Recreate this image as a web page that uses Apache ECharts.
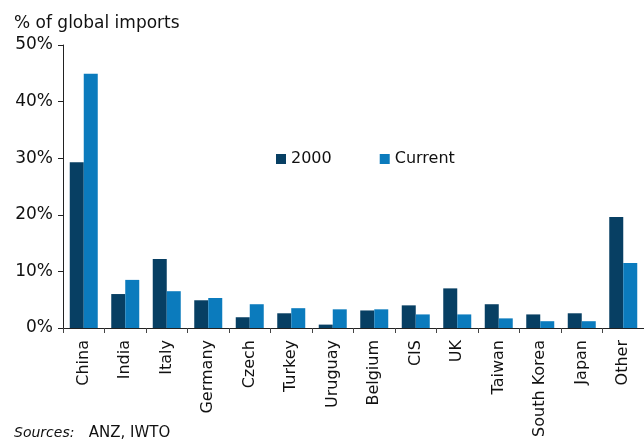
<!DOCTYPE html>
<html>
<head>
<meta charset="utf-8">
<script src="https://cdn.jsdelivr.net/npm/echarts@6/dist/echarts.min.js"></script>
<style>
  html, body { margin: 0; padding: 0; background: #fff; }
  #chart { width: 644px; height: 443px; }
</style>
</head>
<body>
<div id="chart"></div>
<script>
const countries = ['China', 'India', 'Italy', 'Germany', 'Czech', 'Turkey', 'Uruguay',
  'Belgium', 'CIS', 'UK', 'Taiwan', 'South Korea', 'Japan', 'Other'];
const share2000 = [29.3, 6.0, 12.2, 4.9, 1.9, 2.6, 0.6, 3.1, 4.0, 7.0, 4.2, 2.4, 2.6, 19.6];
const shareCurrent = [44.9, 8.5, 6.5, 5.3, 4.2, 3.5, 3.3, 3.3, 2.4, 2.4, 1.7, 1.2, 1.2, 11.5];

const font = 'DejaVu Sans';
const chart = echarts.init(document.getElementById('chart'));

chart.setOption({
  backgroundColor: '#fff',
  animation: false,
  textStyle: { fontFamily: font },
  title: [
    { text: '% of global imports', left: 9, top: 10,
      textStyle: { fontFamily: font, fontSize: 17, fontWeight: 'normal', color: '#111' } },
    { text: '{i|Sources:}   ANZ, IWTO', left: 9, top: 421,
      textStyle: { fontFamily: font, fontSize: 15, fontWeight: 'normal', color: '#111',
        rich: { i: { fontStyle: 'italic', fontFamily: font, fontSize: 14, color: '#111' } } } }
  ],
  legend: {
    left: 271, top: 146,
    itemWidth: 10, itemHeight: 10, itemGap: 48,
    icon: 'rect',
    textStyle: { fontFamily: font, fontSize: 16, color: '#111' },
    data: ['2000', 'Current']
  },
  grid: { left: 63, top: 45, width: 592, height: 283, containLabel: false },
  xAxis: {
    type: 'category',
    data: countries,
    axisLine: { lineStyle: { color: '#222', width: 1 } },
    axisTick: { show: true, length: 5, lineStyle: { color: '#444' } },
    axisLabel: { rotate: 90, fontSize: 16, color: '#111', margin: 12, fontFamily: font }
  },
  yAxis: {
    type: 'value',
    min: 0, max: 50, interval: 10,
    axisLine: { show: true, lineStyle: { color: '#222', width: 1 } },
    axisTick: { show: true, length: 5, lineStyle: { color: '#222' } },
    splitLine: { show: false },
    axisLabel: { formatter: '{value}%', fontSize: 17, color: '#111', margin: 10, fontFamily: font }
  },
  series: [
    { name: '2000', type: 'bar', data: share2000, barWidth: 14, barGap: '0%',
      itemStyle: { color: '#073f63' } },
    { name: 'Current', type: 'bar', data: shareCurrent, barWidth: 14, barGap: '0%',
      itemStyle: { color: '#0b7bbd' } }
  ]
});
</script>
</body>
</html>
